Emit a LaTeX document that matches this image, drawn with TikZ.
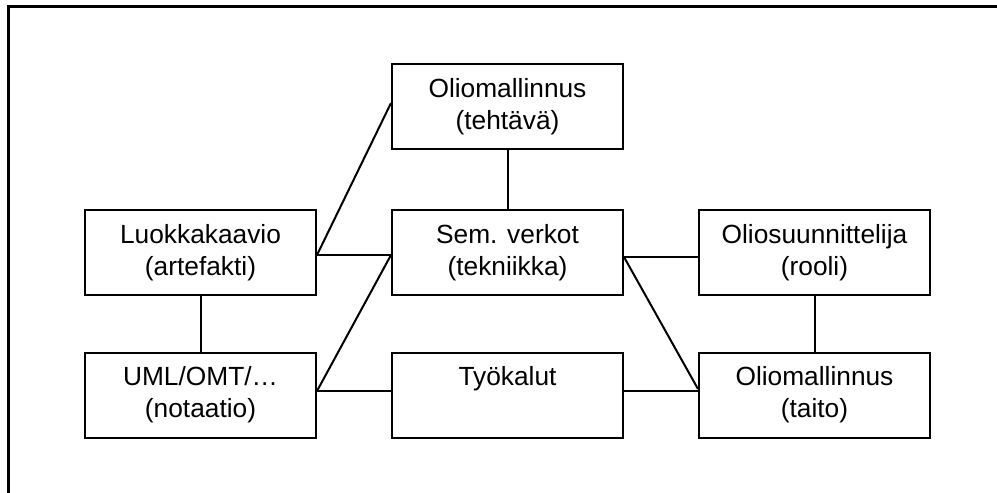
\documentclass[tikz,border=0pt]{standalone}
\usepackage{fontspec}
\setmainfont{Liberation Sans}
\begin{document}
\begin{tikzpicture}[x=1pt,y=-1pt,
  concept/.style={draw, line width=2pt, minimum width=231pt, minimum height=85pt,
    align=center, inner sep=0pt, font=\fontsize{26.3}{32}\selectfont},
  link/.style={line width=2pt},
  frame/.style={line width=3pt}]
\useasboundingbox (0,0) rectangle (997,493);
% outer frame (only top and left edges fall inside the page)
\draw[frame] (8,530) -- (8,6.5) -- (1030,6.5);

% concepts
\node[concept] (task)  at (507.5,106.5) {Oliomallinnus\\(tehtävä)};
\node[concept] (class) at (200.5,252.5) {Luokkakaavio\\(artefakti)};
\node[concept] (sem)   at (507.5,252.5) {Sem. verkot\\(tekniikka)};
\node[concept] (role)  at (814.5,252.5) {Oliosuunnittelija\\(rooli)};
\node[concept] (uml)   at (200.5,395)   {UML/OMT/…\\(notaatio)};
\node[concept] (tools) at (507.5,395)   {Työkalut\\\phantom{(x)}};
\node[concept] (skill) at (814.5,395)   {Oliomallinnus\\(taito)};

% connections
\draw[link] ([yshift=3.5pt]task.west) -- ([yshift=-2.5pt]class.east);
\draw[link] (task.south) -- (sem.north);
\draw[link] ([yshift=-2.5pt]class.east) -- ([yshift=-2.5pt]sem.west);
\draw[link] ([yshift=-2.5pt]sem.west) -- ([yshift=4pt]uml.east);
\draw[link] ([yshift=4pt]uml.east) -- ([yshift=4pt]tools.west);
\draw[link] (class.south) -- (uml.north);
\draw[link] ([yshift=-4.5pt]sem.east) -- ([yshift=-4.5pt]role.west);
\draw[link] ([yshift=-4.5pt]sem.east) -- ([yshift=6pt]skill.west);
\draw[link] ([yshift=4pt]tools.east) -- ([yshift=4pt]skill.west);
\draw[link] (role.south) -- (skill.north);
\end{tikzpicture}
\end{document}
